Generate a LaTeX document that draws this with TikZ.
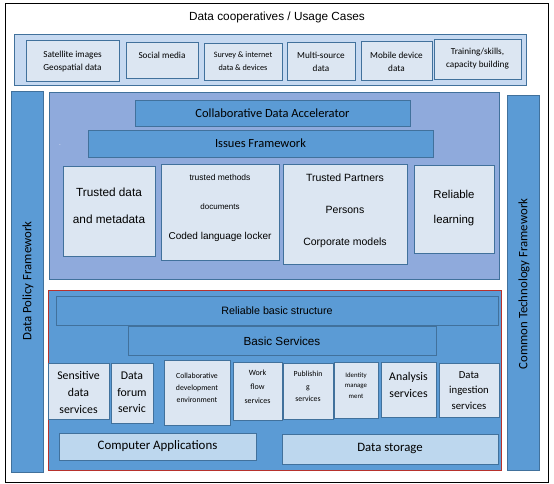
\documentclass[tikz,border=0pt]{standalone}
\usepackage{fontspec}
\setmainfont{Carlito}
\newfontfamily\arialf{Liberation Sans}
\definecolor{edge}{HTML}{41719C}
\definecolor{midblue}{HTML}{5B9BD5}
\definecolor{lavender}{HTML}{8FAADC}
\definecolor{lightfill}{HTML}{DCE6F2}
\definecolor{bandfill}{HTML}{C6D9F1}
\definecolor{appfill}{HTML}{BDD7EE}
\definecolor{redline}{HTML}{B7312C}
\newcommand\fs[2]{\fontsize{#1}{#2}\selectfont}
\newcommand\rbx[6]{\node[#2,inner sep=0pt,outer sep=0pt,anchor=north west,minimum width={(#5-#3)*1pt},minimum height={(#6-#4)*1pt}] (#1) at (#3,#4) {};}
\tikzset{
  frame/.style={draw=black,line width=0.8pt},
  band/.style={draw=edge,fill=bandfill,line width=0.8pt},
  lbox/.style={draw=edge,fill=lightfill,line width=0.8pt},
  mbox/.style={draw=edge,fill=midblue,line width=0.8pt},
  pbox/.style={draw=edge,fill=lavender,line width=0.8pt},
  rpanel/.style={draw=redline,fill=midblue,line width=0.8pt},
  abox/.style={draw=edge,fill=appfill,line width=0.8pt},
  lbl/.style={inner sep=0pt,align=center,text=black}
}
\begin{document}
\begin{tikzpicture}[x=1pt,y=-1pt]
\useasboundingbox (0,0) rectangle (554,484);
% outer frame
\rbx{outer}{frame}{5}{3}{548}{482}
\node[lbl,font=\arialf\fs{11.8}{14}] (title) at (277,17) {Data cooperatives / Usage Cases};
% usage band
\rbx{band}{band}{14}{34}{526}{85}
\rbx{sat}{lbox}{26}{40}{119}{81}
\rbx{soc}{lbox}{126}{42}{198}{78}
\rbx{sur}{lbox}{204}{43}{282}{80}
\rbx{mul}{lbox}{287}{42}{355}{80}
\rbx{mob}{lbox}{361}{41}{432}{80}
\rbx{tra}{lbox}{434}{39}{521}{79}
\node[lbl,font=\fs{9.2}{13}] (tsat) at (72.5,61.5) {Satellite images\\Geospatial data};
\node[lbl,font=\fs{9.2}{13}] (tsoc) at (162,55) {Social media};
\node[lbl,font=\fs{8.2}{13}] (tsur) at (243,61.5) {Survey \& internet\\data \& devices};
\node[lbl,font=\fs{9.2}{13}] (tmul) at (321,61.5) {Multi-source\\data};
\node[lbl,font=\fs{9.2}{13}] (tmob) at (396.5,61.5) {Mobile device\\data};
\node[lbl,font=\fs{9.2}{13}] (ttra) at (477.5,58.5) {Training/skills,\\capacity building};
% side bars
\rbx{policy}{mbox}{11}{91}{43}{472}
\node[lbl,rotate=90,font=\fs{12.8}{15}] (tpolicy) at (28,281) {Data Policy Framework};
\rbx{tech}{mbox}{507}{95}{539}{470}
\node[lbl,rotate=90,font=\fs{12.8}{15}] (ttech) at (524,284) {Common Technology Framework};
% upper panel
\rbx{upper}{pbox}{49}{92}{499}{279}
\rbx{cda}{mbox}{135}{100}{410}{126}
\node[lbl,font=\fs{12.5}{15}] (tcda) at (272.5,113) {Collaborative Data Accelerator};
\rbx{iss}{mbox}{88}{130}{433}{157}
\node[lbl,font=\fs{12.5}{15}] (tiss) at (260.5,143) {Issues Framework};
\node[lbl,text=white,font=\fs{5}{6}] (dash) at (60,146) {-};
\rbx{tdm}{lbox}{63}{166}{155}{256}
\node[lbl,font=\arialf\fs{11.8}{27}] (ttdm) at (109,206) {Trusted data\\and metadata};
\rbx{tme}{lbox}{161}{164}{279}{260}
\node[lbl,font=\arialf\fs{8.5}{29.5}] (ttme) at (220,207.5) {trusted methods\\{\fs{8}{29.5}documents}\\{\fs{10}{29.5}Coded language locker}};
\rbx{tpa}{lbox}{283}{164}{407}{264}
\node[lbl,font=\arialf\fs{10.5}{32}] (ttpa) at (345,211) {Trusted Partners\\Persons\\Corporate models};
\rbx{rel}{lbox}{414}{165}{494}{253}
\node[lbl,font=\arialf\fs{11.4}{25}] (trel) at (454,208.5) {Reliable\\learning};
% lower panel
\rbx{lower}{rpanel}{48}{290}{501}{470}
\rbx{rbs}{mbox}{56}{296}{498}{325}
\node[lbl,font=\arialf\fs{10.7}{13}] (trbs) at (277,311) {Reliable basic structure};
\rbx{bas}{mbox}{128}{326}{436}{355}
\node[lbl,font=\arialf\fs{11.7}{14}] (tbas) at (282,341) {Basic Services};
\rbx{sen}{lbox}{48}{363}{109}{419}
\node[lbl,font=\fs{11.8}{17}] (tsen) at (78.5,392) {Sensitive\\data\\services};
\rbx{dfs}{lbox}{111}{363}{153}{423}
\node[lbl,font=\fs{11.8}{16.5}] (tdfs) at (132,392.5) {Data\\forum\\servic};
\rbx{cde}{lbox}{164}{360}{230}{425}
\node[lbl,font=\fs{7.8}{12}] (tcde) at (197,388) {Collaborative\\development\\environment};
\rbx{wfs}{lbox}{233}{362}{282}{420}
\node[lbl,font=\fs{8}{14}] (twfs) at (257.5,387) {Work\\flow\\services};
\rbx{pub}{lbox}{283}{363}{333}{419}
\node[lbl,font=\fs{7.8}{12.5}] (tpub) at (308,386.5) {Publishin\\g\\services};
\rbx{idm}{lbox}{334}{362}{378}{418}
\node[lbl,font=\fs{6.8}{10.5}] (tidm) at (356,385.5) {Identity\\manage\\ment};
\rbx{ana}{lbox}{381}{362}{436}{417}
\node[lbl,font=\fs{11.8}{17}] (tana) at (408.5,384.5) {Analysis\\services};
\rbx{ing}{lbox}{439}{363}{499}{417}
\node[lbl,font=\fs{10.7}{15.5}] (ting) at (469,390.5) {Data\\ingestion\\services};
\rbx{app}{abox}{59}{433}{256}{460}
\node[lbl,font=\fs{12.9}{15}] (tapp) at (157.5,446.5) {Computer Applications};
\rbx{sto}{abox}{282}{434}{498}{464}
\node[lbl,font=\fs{12.8}{15}] (tsto) at (390,448.5) {Data storage};
\end{tikzpicture}
\end{document}
